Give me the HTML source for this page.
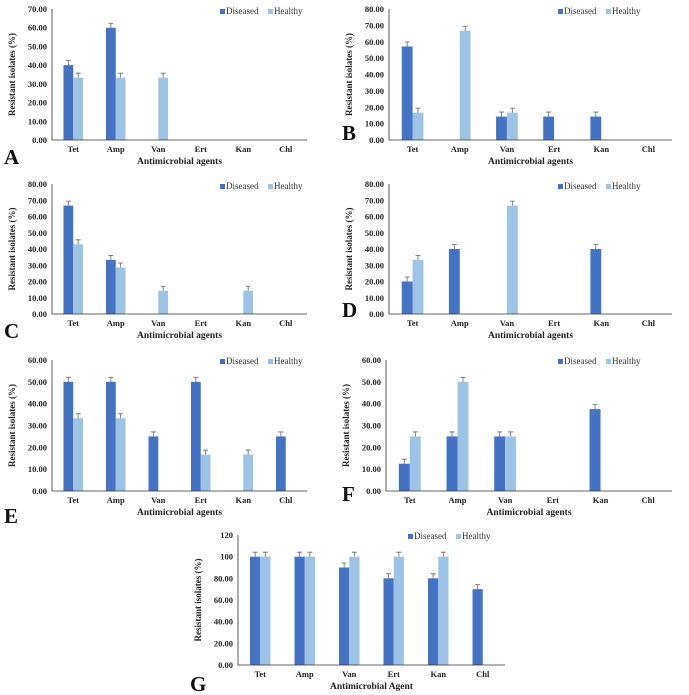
<!DOCTYPE html>
<html><head><meta charset="utf-8"><style>
html,body{margin:0;padding:0;background:#fff;}
svg{display:block;font-family:"Liberation Serif",serif;}
</style></head><body>
<svg id="fig" width="689" height="695" viewBox="0 0 689 695" xmlns="http://www.w3.org/2000/svg"></svg>
<script>
const categories = ["Tet","Amp","Van","Ert","Kan","Chl"];
const diseasedA = [40,60,0,0,0,0];
const healthyA = [33.3,33.3,33.3,0,0,0];
const diseasedB = [57.1,0,14.3,14.3,14.3,0];
const healthyB = [16.7,66.7,16.7,0,0,0];
const diseasedC = [66.7,33.3,0,0,0,0];
const healthyC = [42.9,28.6,14.3,0,14.3,0];
const diseasedD = [20,40,0,0,40,0];
const healthyD = [33.3,0,66.7,0,0,0];
const diseasedE = [50,50,25,50,0,25];
const healthyE = [33.3,33.3,0,16.7,16.7,0];
const diseasedF = [12.5,25,25,0,37.5,0];
const healthyF = [25,50,25,0,0,0];
const diseasedG = [100,100,90,80,80,70];
const healthyG = [100,100,100,100,100,0];
const ticksA = ["0.00","10.00","20.00","30.00","40.00","50.00","60.00","70.00"];
const ticks80 = ["0.00","10.00","20.00","30.00","40.00","50.00","60.00","70.00","80.00"];
const ticks60 = ["0.00","10.00","20.00","30.00","40.00","50.00","60.00"];
const ticksG = ["0.00","20.00","40.00","60.00","80.00","100","120"];

const NS="http://www.w3.org/2000/svg";
const svg=document.getElementById('fig');
function mk(tag,attrs,parent){const e=document.createElementNS(NS,tag);for(const k in attrs)e.setAttribute(k,attrs[k]);(parent||svg).appendChild(e);return e;}
function txt(s,attrs,parent){const e=mk('text',attrs,parent);e.textContent=s;return e;}

function panel(cfg){
  const g=mk('g',{});
  
  
  const {x0,x1,y0,y1,max,ticks}=cfg;
  const yS=v=>y1-(v/max)*(y1-y0);
  const step=(x1-x0)/categories.length;
  const xS=i=>x0+step*(i+0.5);
  const bw=step*0.23;
  ticks.forEach((t,i)=>{
    const v=max*i/(ticks.length-1);
    const lab=txt(t,{x:x0-5,y:yS(v)+3,'font-size':8.5,'font-weight':'bold','text-anchor':'end',fill:'#222'},g);
    
    
  });
  cfg.d.forEach((v,i)=>{
    if(v>0){
      const r=mk('rect',{x:xS(i)-bw,y:yS(v),width:bw,height:y1-yS(v),fill:'#4472C4'},g);
      
      
      const e=yS(v)-4.5;
      mk('path',{d:`M${xS(i)-bw/2} ${yS(v)}V${e}M${xS(i)-bw/2-2.5} ${e}H${xS(i)-bw/2+2.5}`,stroke:'#666',fill:'none','stroke-width':0.8},g);
    }
  });
  cfg.h.forEach((v,i)=>{
    if(v>0){
      const r=mk('rect',{x:xS(i),y:yS(v),width:bw,height:y1-yS(v),fill:'#9DC3E6'},g);
      
      
      const e=yS(v)-4.5;
      mk('path',{d:`M${xS(i)+bw/2} ${yS(v)}V${e}M${xS(i)+bw/2-2.5} ${e}H${xS(i)+bw/2+2.5}`,stroke:'#666',fill:'none','stroke-width':0.8},g);
    }
  });
  const ax=mk('path',{d:`M${x0} ${y0}V${y1}H${x1}`,stroke:'#333','stroke-width':0.8,fill:'none'},g);
  
  
  categories.forEach((c,i)=>{
    const l=txt(c,{x:xS(i),y:y1+12,'font-size':8.5,'font-weight':'bold','text-anchor':'middle',fill:'#222'},g);
    
    
  });
  const xt=txt(cfg.xtitle,{x:(x0+x1)/2,y:y1+24,'font-size':9.5,'font-weight':'bold','text-anchor':'middle',fill:'#222'},g);
  
  
  const ytx=x0-37, ytyc=(y0+y1)/2;
  const yt=txt('Resistant isolates (%)',{x:ytx,y:ytyc,'font-size':9,'font-weight':'bold','text-anchor':'middle',fill:'#222',transform:`rotate(-90 ${ytx} ${ytyc})`},g);
  
  
  const L=txt(cfg.letter,{x:cfg.lx,y:cfg.ly,'font-size':21,'font-weight':'bold',fill:'#111'},g);
  
  
  const lg=mk('g',{},g);
  
  
  mk('rect',{x:cfg.legx,y:cfg.legy-5,width:5,height:5,fill:'#4472C4'},lg);
  txt('Diseased',{x:cfg.legx+6,y:cfg.legy,'font-size':9,fill:'#333'},lg);
  mk('rect',{x:cfg.legx+48,y:cfg.legy-5,width:5,height:5,fill:'#9DC3E6'},lg);
  txt('Healthy',{x:cfg.legx+54,y:cfg.legy,'font-size':9,fill:'#333'},lg);
}
const xa="Antimicrobial  agents";
panel({letter:'A',d:diseasedA,h:healthyA,x0:52,x1:307,y0:9,y1:140,max:70,ticks:ticksA,xtitle:xa,lx:4,ly:164,legx:220,legy:14});
panel({letter:'B',d:diseasedB,h:healthyB,x0:389,x1:672,y0:9,y1:140,max:80,ticks:ticks80,xtitle:xa,lx:342,ly:140,legx:558,legy:14});
panel({letter:'C',d:diseasedC,h:healthyC,x0:52,x1:307,y0:184,y1:314,max:80,ticks:ticks80,xtitle:xa,lx:4,ly:338,legx:220,legy:189});
panel({letter:'D',d:diseasedD,h:healthyD,x0:389,x1:672,y0:184,y1:314,max:80,ticks:ticks80,xtitle:xa,lx:342,ly:317,legx:558,legy:189});
panel({letter:'E',d:diseasedE,h:healthyE,x0:52,x1:307,y0:360,y1:491,max:60,ticks:ticks60,xtitle:xa,lx:4,ly:523,legx:220,legy:364});
panel({letter:'F',d:diseasedF,h:healthyF,x0:386,x1:672,y0:360,y1:491,max:60,ticks:ticks60,xtitle:xa,lx:342,ly:501,legx:558,legy:364});
panel({letter:'G',d:diseasedG,h:healthyG,x0:238,x1:505,y0:535,y1:665,max:120,ticks:ticksG,xtitle:"Antimicrobial  Agent",lx:190,ly:691,legx:408,legy:539});
</script>
</body></html>
